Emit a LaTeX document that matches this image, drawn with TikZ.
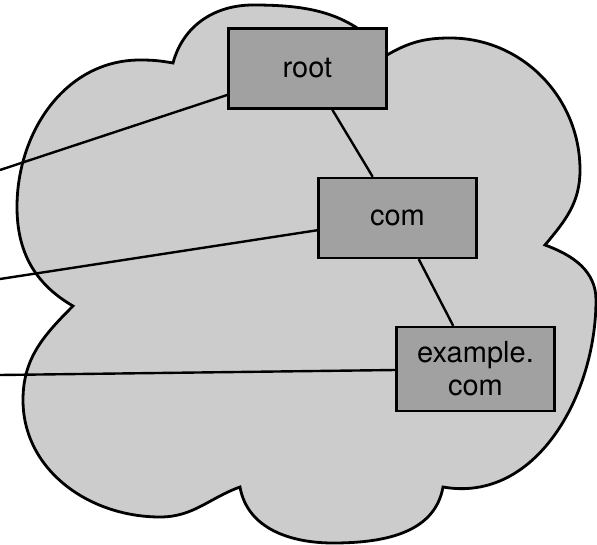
\documentclass[tikz,border=0pt]{standalone}
\usepackage{fontspec}
\setmainfont{TeX Gyre Heros}
\usepackage{tikz}
\usetikzlibrary{positioning}

\definecolor{cloudgray}{gray}{0.8}
\definecolor{boxgray}{gray}{0.63}

\begin{document}
\begin{tikzpicture}[x=1pt,y=1pt,
		every node/.style={font=\fontsize{29}{33}\selectfont},
		zone/.style={draw,line width=2.4pt,fill=boxgray,align=center,
			minimum width=158pt,minimum height=80pt,inner sep=0pt},
		link/.style={line width=2.4pt}]
		\useasboundingbox (0,0) rectangle (597,544);
		%Cloud
		\draw[line width=2.8pt,fill=cloudgray]
			(173,481) to[out=75,in=180] (253,539)
			to[out=0,in=130] (387,489)
			to[out=30,in=180] (450,506)
			to[out=0,in=90] (580,374)
			to[out=-90,in=50] (545,299)
			to[out=-20,in=90] (596,244)
			to[out=-90,in=-10] (443,57)
			to[out=-100,in=0] (333,1)
			to[out=180,in=-80] (240,57)
			to[out=200,in=0] (160,27)
			to[out=180,in=-90] (23,144)
			to[out=90,in=225] (73,238)
			to[out=150,in=-90] (17,337)
			to[out=90,in=180] (140,484)
			to[out=0,in=170] cycle;
		%
		\node[zone] (root) at (307.5,475.5) {root};
		\node[zone] (com) at (397.5,326) {com};
		\node[zone,minimum height=84pt] (excom) at (475.5,175) {example.\\com};
		\coordinate (in0) at (0,374);
		\coordinate (in1) at (0,265);
		\coordinate (in2) at (0,169);
		%
		\draw[link]
			%Tree
			(root) edge (com)
			(com) edge (excom)
			
			%Outside
			(in0) edge (root)
			(in1) edge (com)
			(in2) edge (excom)
		;
	\end{tikzpicture}
\end{document}
